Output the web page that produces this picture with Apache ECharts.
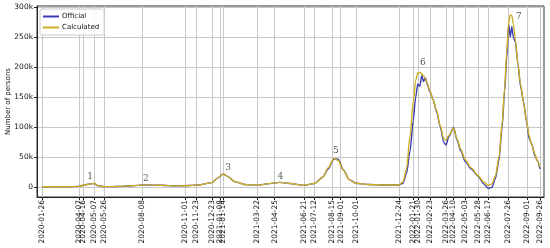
<!DOCTYPE html>
<html lang="en">
<head>
    <meta charset="UTF-8">
    <title>Number of persons</title>
    <script src="https://cdn.jsdelivr.net/npm/echarts@6/dist/echarts.min.js"></script>
    <style>
        html, body { margin: 0; padding: 0; background: #fff; }
        #main { width: 550px; height: 248px; }
    </style>
</head>
<body>
<div id="main"></div>
<script>
    // dates of the vertical grid lines / tick labels
    var tickDates = ['2020-01-26', '2020-04-07', '2020-04-16', '2020-05-07', '2020-05-26', '2020-08-08',
        '2020-11-01', '2020-11-23', '2020-12-23', '2021-01-08', '2021-01-14', '2021-03-22', '2021-04-25',
        '2021-06-21', '2021-07-12', '2021-08-15', '2021-09-01', '2021-10-01', '2021-12-24', '2022-01-21',
        '2022-01-30', '2022-02-23', '2022-03-26', '2022-04-10', '2022-05-03', '2022-05-28', '2022-06-17',
        '2022-07-26', '2022-09-01', '2022-09-26'];

    var yTicks = [0, 50000, 100000, 150000, 200000, 250000, 300000];

    var dates = ['2020-01-26', '2020-03-15', '2020-04-07', '2020-04-20', '2020-05-01', '2020-05-07', '2020-05-14',
        '2020-05-26', '2020-06-20', '2020-07-20', '2020-08-12', '2020-09-15', '2020-10-15', '2020-11-10',
        '2020-12-01', '2020-12-23', '2021-01-04', '2021-01-14', '2021-01-24', '2021-02-05', '2021-02-25',
        '2021-03-22', '2021-04-10', '2021-05-05', '2021-05-25', '2021-06-21', '2021-07-12', '2021-07-28',
        '2021-08-08', '2021-08-19', '2021-08-27', '2021-09-06', '2021-09-18', '2021-10-01', '2021-10-25',
        '2021-12-01', '2021-12-24', '2022-01-01', '2022-01-08', '2022-01-15', '2022-01-21', '2022-01-26',
        '2022-01-30', '2022-02-03', '2022-02-07', '2022-02-10', '2022-02-14', '2022-02-18', '2022-02-23',
        '2022-03-01', '2022-03-08', '2022-03-15', '2022-03-22', '2022-03-26', '2022-04-01', '2022-04-10',
        '2022-04-17', '2022-04-24', '2022-05-03', '2022-05-14', '2022-05-28', '2022-06-08', '2022-06-17',
        '2022-06-24', '2022-07-01', '2022-07-08', '2022-07-14', '2022-07-19', '2022-07-23', '2022-07-27',
        '2022-07-30', '2022-08-02', '2022-08-05', '2022-08-09', '2022-08-14', '2022-08-19', '2022-08-25',
        '2022-08-31', '2022-09-05', '2022-09-10', '2022-09-16', '2022-09-21', '2022-09-26'];

    var official = [0, 0, 800, 3500, 5000, 5500, 2000,
        300, 500, 1800, 3200, 2500, 1500, 2200,
        3500, 7000, 15000, 21500, 17000, 9000, 4000,
        2500, 5000, 7500, 5500, 2500, 5500, 16000,
        30000, 47000, 46000, 29000, 12000, 6000, 4000,
        3000, 3000, 6000, 22000, 60000, 110000, 150000,
        172000, 168000, 186000, 176000, 182000, 170000, 158000,
        146000, 125000, 100000, 74000, 70000, 84000, 99000,
        78000, 60000, 42000, 30000, 18000, 5000, -2500,
        -1000, 14000, 45000, 100000, 160000, 215000, 272000,
        250000, 268000, 250000, 242000, 205000, 168000, 142000,
        108000, 80000, 72000, 52000, 44000, 30000];

    var calculated = [0, 0, 800, 3500, 5000, 5500, 2000,
        300, 500, 1800, 3200, 2500, 1500, 2200,
        3500, 7000, 15000, 21500, 17000, 9000, 4000,
        2500, 5000, 7500, 5500, 2500, 5500, 16000,
        32000, 48000, 44000, 28000, 12000, 6000, 4000,
        3000, 3000, 8000, 30000, 85000, 140000, 178000,
        190000, 191000, 189000, 186000, 180000, 172000, 160000,
        145000, 127000, 102000, 80000, 78000, 86000, 98000,
        80000, 63000, 45000, 32000, 19000, 8000, 2500,
        5000, 18000, 50000, 105000, 165000, 225000, 275000,
        287000, 286000, 272000, 245000, 205000, 172000, 140000,
        110000, 85000, 70000, 55000, 43000, 33000];

    // wave numbers written above the peaks
    var waveNames = ['1', '2', '3', '4', '5', '6', '7'];
    var waveDates = ['2020-04-29', '2020-08-16', '2021-01-24', '2021-05-06', '2021-08-23', '2022-02-09', '2022-08-16'];
    var waveValues = [16500, 13500, 32000, 16500, 60000, 208000, 285000];

    function toTime(d) {
        var p = d.split('-');
        return Date.UTC(+p[0], +p[1] - 1, +p[2]);
    }

    function fmt(v) {
        var d = new Date(v);
        var m = d.getUTCMonth() + 1, day = d.getUTCDate();
        return d.getUTCFullYear() + '-' + (m < 10 ? '0' + m : m) + '-' + (day < 10 ? '0' + day : day);
    }

    var tickTimes = tickDates.map(toTime);

    var chart = echarts.init(document.getElementById('main'), null, {renderer: 'canvas'});

    var font = 'DejaVu Sans';

    var option = {
        animation: false,
        backgroundColor: '#fff',
        grid: {
            left: 37, right: 6, top: 6, bottom: 51,
            containLabel: false,
            outerBoundsMode: 'none',
            show: true, borderColor: '#333', borderWidth: 1, backgroundColor: 'transparent'
        },
        legend: {
            data: ['Official', 'Calculated'],
            orient: 'vertical',
            left: 40, top: 9,
            itemWidth: 16, itemHeight: 2, itemGap: 4,
            icon: 'rect',
            padding: [4, 5, 4, 3],
            borderColor: '#ccc', borderWidth: 1, borderRadius: 2,
            backgroundColor: 'rgba(255,255,255,0.85)',
            textStyle: {fontFamily: font, fontSize: 7, color: '#111', padding: [0, 0, 0, -2]}
        },
        xAxis: {
            type: 'value',
            min: toTime('2020-01-16'),
            max: toTime('2022-10-04'),
            axisLine: {onZero: false, lineStyle: {color: '#222'}},
            axisTick: {show: true, length: 3, customValues: tickTimes, lineStyle: {color: '#222'}},
            axisLabel: {
                customValues: tickTimes,
                rotate: 90,
                fontFamily: font, fontSize: 7.5, color: '#111', margin: 3,
                hideOverlap: false,
                formatter: function (v) { return fmt(v); }
            },
            splitLine: {show: true, lineStyle: {color: '#c8c8c8', width: 1}}
        },
        yAxis: {
            type: 'value',
            min: -17000,
            max: 302000,
            name: 'Number of persons',
            nameLocation: 'middle',
            nameGap: 25,
            nameMoveOverlap: false,
            nameTextStyle: {fontFamily: font, fontSize: 7, color: '#111'},
            axisLine: {show: true, lineStyle: {color: '#222'}},
            axisTick: {show: true, length: 3, customValues: yTicks, lineStyle: {color: '#222'}},
            axisLabel: {
                customValues: yTicks,
                fontFamily: font, fontSize: 7.5, color: '#111', margin: 4,
                formatter: function (v) { return v === 0 ? '0' : (v / 1000) + 'k'; }
            },
            splitLine: {show: true, lineStyle: {color: '#c8c8c8', width: 1}}
        },
        series: [
            {
                name: 'Official',
                type: 'line',
                showSymbol: false,
                smooth: 0.25,
                smoothMonotone: 'x',
                color: '#3b3bb5',
                lineStyle: {width: 1.4, color: '#3b3bb5'},
                data: dates.map(function (d, i) { return [toTime(d), official[i]]; }),
                z: 2
            },
            {
                name: 'Calculated',
                type: 'line',
                showSymbol: false,
                smooth: 0.3,
                smoothMonotone: 'x',
                color: '#cdb022',
                lineStyle: {width: 1.4, color: '#cdb022'},
                data: dates.map(function (d, i) { return [toTime(d), calculated[i]]; }),
                z: 3
            },
            {
                name: 'waves',
                type: 'scatter',
                symbolSize: 0,
                silent: true,
                label: {
                    show: true,
                    position: 'inside',
                    align: 'center',
                    verticalAlign: 'middle',
                    fontFamily: 'DejaVu Serif',
                    fontSize: 9,
                    color: '#1e2a1e',
                    formatter: function (p) { return p.value[2]; }
                },
                data: waveDates.map(function (d, i) { return [toTime(d), waveValues[i], waveNames[i]]; }),
                z: 4
            }
        ]
    };

    chart.setOption(option);
</script>
</body>
</html>
